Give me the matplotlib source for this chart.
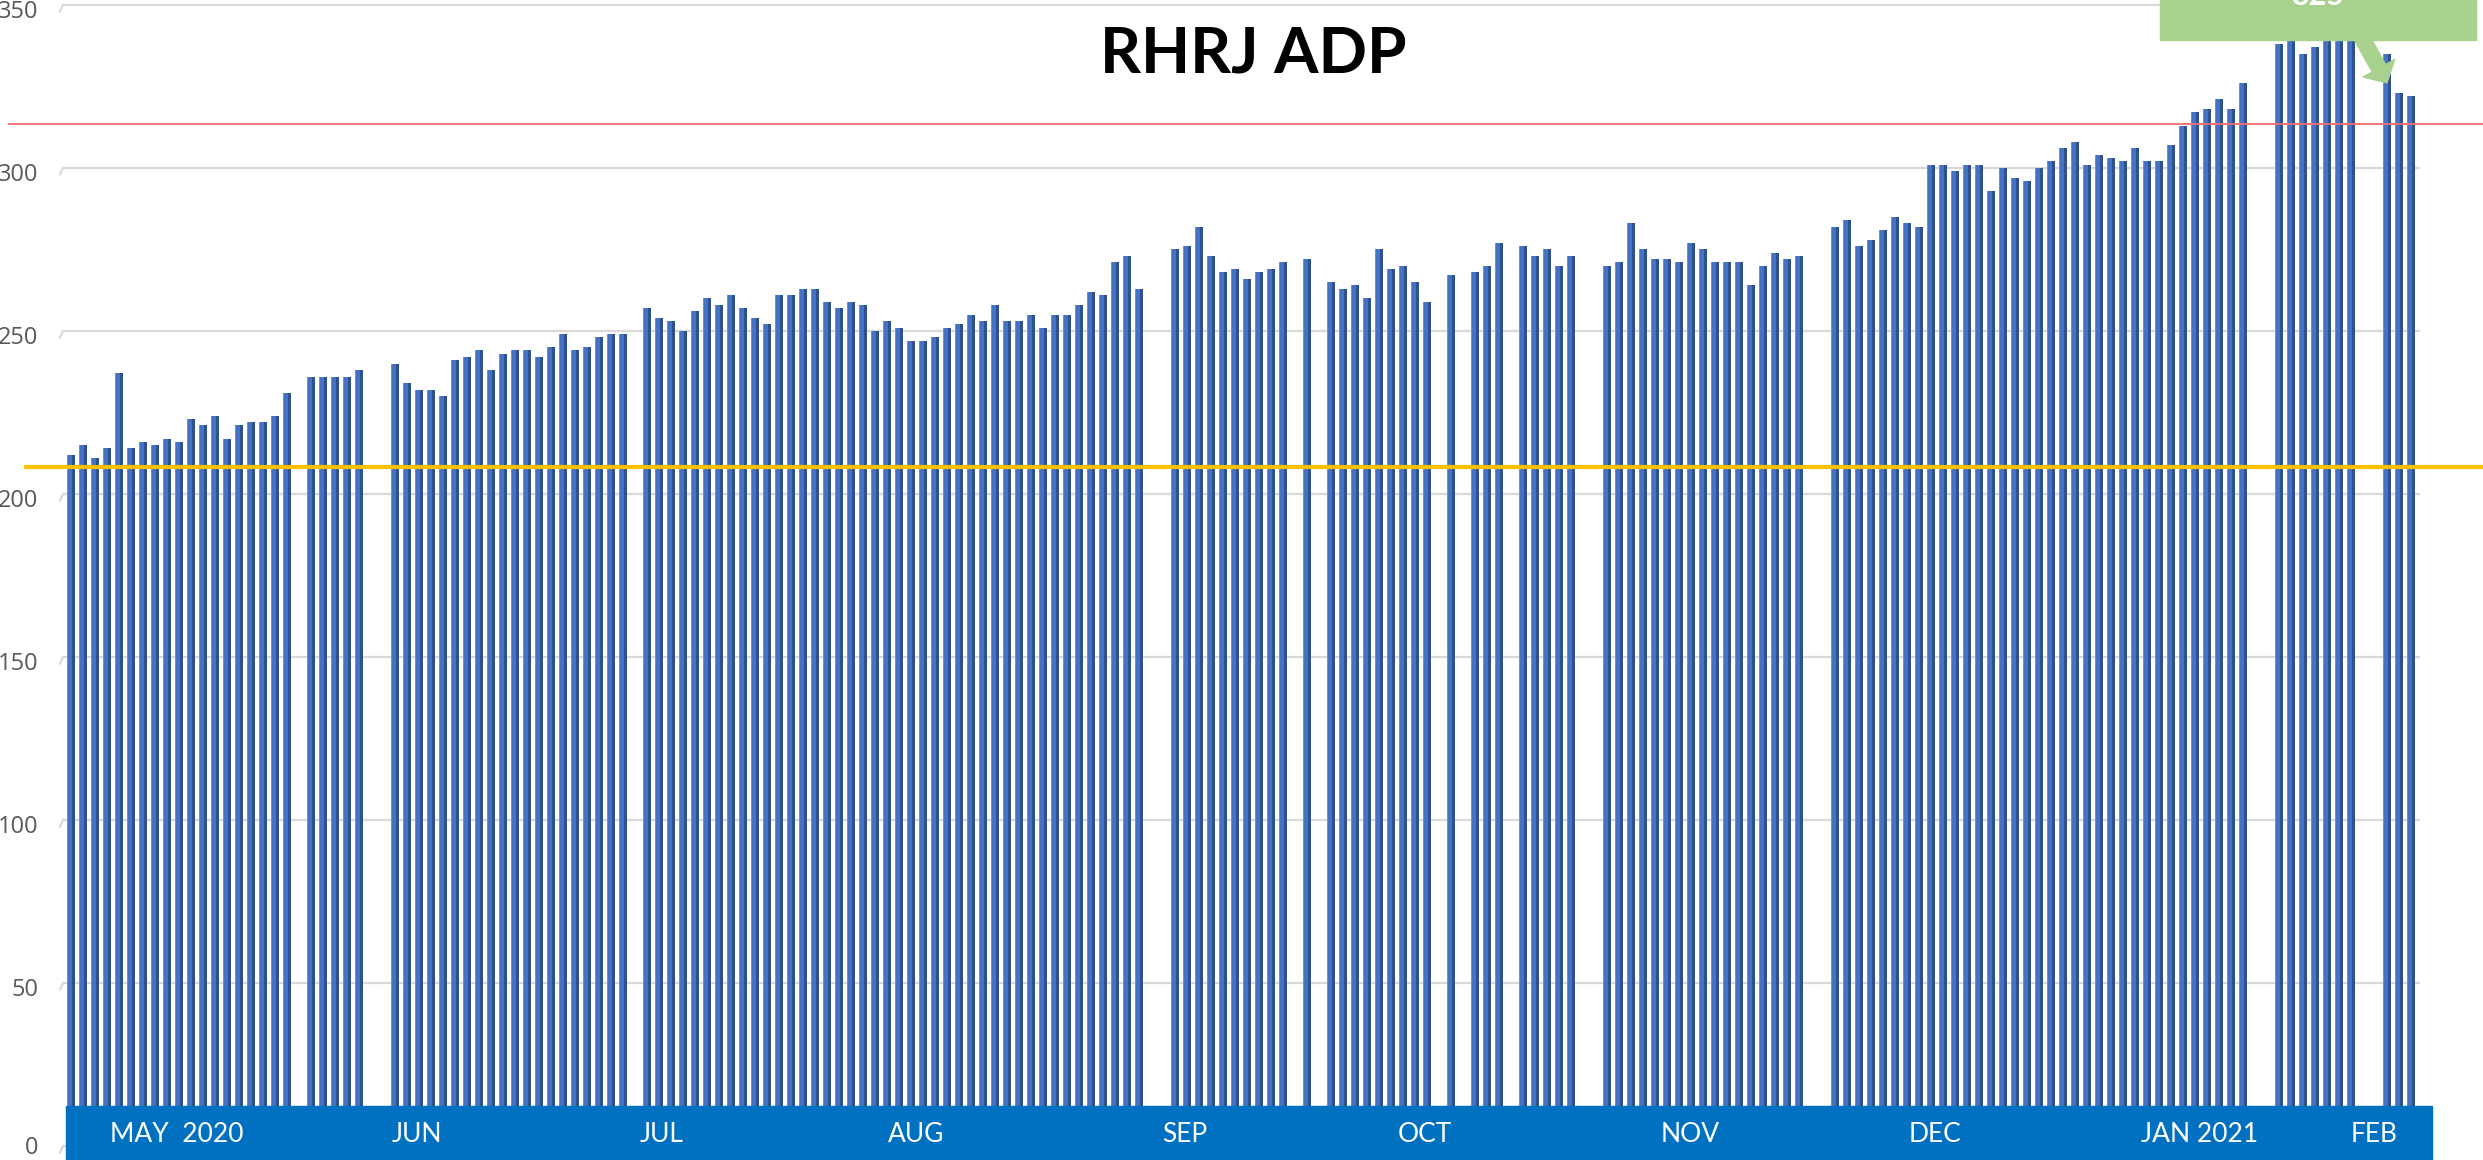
import numpy as np
import matplotlib
matplotlib.use('Agg')
import matplotlib.pyplot as plt
from matplotlib.patches import Rectangle

# ADP por dia (None = dia sem dado, fica o buraco no grafico)
adp = [212, 215, 211, 214, 237, 214, 216, 215, 217, 216,
       223, 221, 224, 217, 221, 222, 222, 224, 231, None,
       236, 236, 236, 236, 238, None, None, 240, 234, 232,
       232, 230, 241, 242, 244, 238, 243, 244, 244, 242,
       245, 249, 244, 245, 248, 249, 249, None, 257, 254,
       253, 250, 256, 260, 258, 261, 257, 254, 252, 261,
       261, 263, 263, 259, 257, 259, 258, 250, 253, 251,
       247, 247, 248, 251, 252, 255, 253, 258, 253, 253,
       255, 251, 255, 255, 258, 262, 261, 271, 273, 263,
       None, None, 275, 276, 282, 273, 268, 269, 266, 268,
       269, 271, None, 272, None, 265, 263, 264, 260, 275,
       269, 270, 265, 259, None, 267, None, 268, 270, 277,
       None, 276, 273, 275, 270, 273, None, None, 270, 271,
       283, 275, 272, 272, 271, 277, 275, 271, 271, 271,
       264, 270, 274, 272, 273, None, None, 282, 284, 276,
       278, 281, 285, 283, 282, 301, 301, 299, 301, 301,
       293, 300, 297, 296, 300, 302, 306, 308, 301, 304,
       303, 302, 306, 302, 302, 307, 313, 317, 318, 321,
       318, 326, None, None, 338, 342, 335, 337, 341, 343,
       342, None, None, 335, 323, 322]

meses = ['MAY  2020', 'JUN', 'JUL', 'AUG', 'SEP', 'OCT', 'NOV', 'DEC', 'JAN 2021', 'FEB']
meses_slot = [9.8, 29.8, 50.2, 71.4, 93.8, 113.8, 135.9, 156.3, 178.4, 192.9]

y_ticks = [0, 50, 100, 150, 200, 250, 300, 350]
linha_vermelha = 313.5
linha_laranja = 208.4
ultimo_valor = '325'

x = np.arange(1, len(adp) + 1)
y = np.array([np.nan if v is None else v for v in adp], dtype=float)
ok = ~np.isnan(y)

fig = plt.figure(figsize=(24.83, 11.6), dpi=100)
ax = fig.add_axes([0, 0, 1, 1])
ax.set_xlim(-4.92, 202.0)
ax.set_ylim(-4.3, 351.5)
ax.axis('off')

# grade com o "degrau" do 3d do excel
for t in y_ticks:
    ax.hlines(t, 0.33, 196.75, color='#D9D9D9', lw=1.6, zorder=1)
    ax.plot([0.08, 0.33], [t - 2.0, t], color='#D9D9D9', lw=1.6, zorder=1)
    desloc = 2.2 if t > 0 else 0.6  # o zero fica colado na borda de baixo
    ax.text(-1.7, t - desloc, str(t), ha='right', va='center', fontsize=17,
            color='#595959', family=['Open Sans', 'DejaVu Sans'])

# barras: lado escuro + face clara
ax.bar(x[ok] - 0.32, y[ok], width=0.64, align='edge', color='#2F528F', zorder=3)
ax.bar(x[ok] - 0.32, y[ok], width=0.42, align='edge', color='#4472C4', zorder=4)
ax.bar(x[ok] - 0.32, y[ok], width=0.07, align='edge', color='#6A90D6', zorder=4)

ax.hlines(linha_vermelha, -4.25, 202, color='#F46A6A', lw=1.3, zorder=5)
ax.hlines(linha_laranja, -2.92, 202, color='#FFC000', lw=3.0, zorder=5)

# faixa azul do eixo x
ax.add_patch(Rectangle((0.58, -4.3), 197.75 - 0.58, 12.3 + 4.3, color='#0070C0', zorder=6))
for nome, pos in zip(meses, meses_slot):
    ax.text(pos, 3.4, nome, ha='center', va='center', color='white', fontsize=19,
            family=['Lato', 'DejaVu Sans'], zorder=7)

# caixa verde com o ultimo valor (cortada no topo, como no original)
ax.add_patch(Rectangle((175.1, 339.1), 26.3, 20, color='#A9D18E', clip_on=False, zorder=8))
ax.text(188.25, 350.0, ultimo_valor, ha='center', va='baseline', color='white',
        fontsize=22, weight='bold', family=['Lato', 'DejaVu Sans'], zorder=9)
ax.annotate('', xy=(194.0, 326.1), xytext=(191.75, 341),
            arrowprops=dict(arrowstyle='simple,head_length=0.6,head_width=1.3,tail_width=0.55',
                            color='#A9D18E', mutation_scale=20, shrinkA=0, shrinkB=0),
            zorder=8)

fig.text(1253 / 2483, 1 - 54 / 1160, 'RHRJ ADP', ha='center', va='center', fontsize=46,
         weight='bold', family=['Lato', 'DejaVu Sans'])

fig.savefig('out.png', dpi=100)
